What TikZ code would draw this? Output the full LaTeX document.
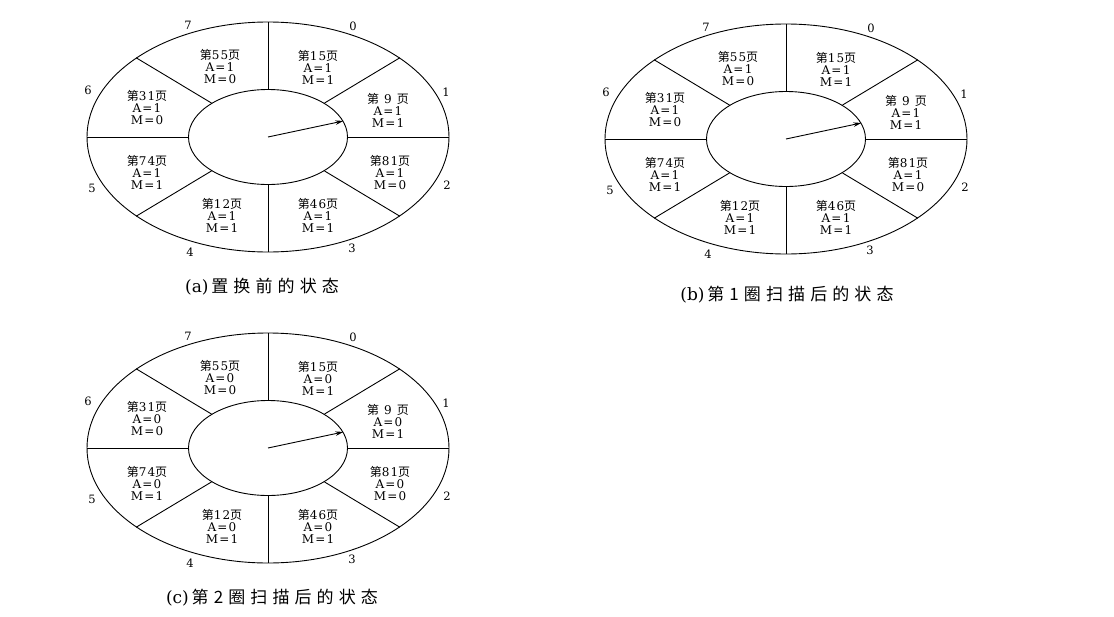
\documentclass[tikz,border=0pt]{standalone}
\usepackage{fontspec}
\setmainfont{DejaVu Serif}
\newfontfamily\cjk[LetterSpace=10]{Noto Sans CJK SC}
\newfontfamily\pagefont[LetterSpace=10]{DejaVu Serif}
\newfontfamily\cjkwide[LetterSpace=30]{Noto Sans CJK SC}
\usetikzlibrary{shapes.geometric,arrows.meta,calc}
\tikzset{
  >=Stealth,
  ring/.style={ellipse,draw,inner sep=0pt,minimum width=362pt,minimum height=230pt},
  hub/.style={ellipse,draw,fill=white,inner sep=0pt,minimum width=159pt,minimum height=95pt},
  pagebox/.style={align=center,inner sep=0pt,font=\pagefont\fontsize{12}{12}\selectfont},
  slotnum/.style={inner sep=0pt,font=\fontsize{11.5}{12}\selectfont},
  caption/.style={inner sep=0pt,font=\fontsize{17}{19}\selectfont},
}
\newcommand{\pagetag}[1]{{\cjk 第}#1{\cjk 页}}

\begin{document}
\begin{tikzpicture}[x=1pt,y=-1pt,line width=0.9pt]
\useasboundingbox (0,0) rectangle (1114,616);
\foreach \nm/\cx/\cy/\av in {a/268/137/1,b/786/139/1,c/268/448/0}{
  \node[ring] (ring\nm) at (\cx,\cy) {};
  \node[hub] (hub\nm) at (\cx,\cy) {};
  % spokes between the frames
  \foreach \ang in {0,31,90,149,180,211,270,329}
    \draw (hub\nm.\ang) -- (ring\nm.\ang);
  % clock hand
  \draw[-{Stealth[length=8pt,width=4.5pt]}] (hub\nm.center) -- (hub\nm.12);
  % pages in the frames
  \foreach \pn/\dx/\dy/\mv [count=\k] in {{15}/50/-70/1,{\ 9\ }/120/-27/1,{81}/122/36/0,{46}/50/78/1,{12}/-46/78/1,{74}/-121/35/1,{31}/-121/-29/0,{55}/-48/-70/0}
    \node[pagebox] (pg\nm\k) at ($(ring\nm)+(\dx,\dy)$) {\pagetag{\pn}\\A=\av\\M=\mv};
  % frame numbers
  \foreach \dx/\dy [count=\k from 0] in {85/-111,178/-45,179/48,84/111,-78/115,-176/51,-180/-47,-80/-112}
    \node[slotnum] (num\nm\k) at ($(ring\nm)+(\dx,\dy)$) {\k};
}
\node[caption] (capa) at (262,287) {(a)\,{\cjkwide 置换前的状态}};
\node[caption] (capb) at (787,295) {(b)\,{\cjkwide 第1圈扫描后的状态}};
\node[caption] (capc) at (272,598) {(c)\,{\cjkwide 第2圈扫描后的状态}};
\end{tikzpicture}
\end{document}
